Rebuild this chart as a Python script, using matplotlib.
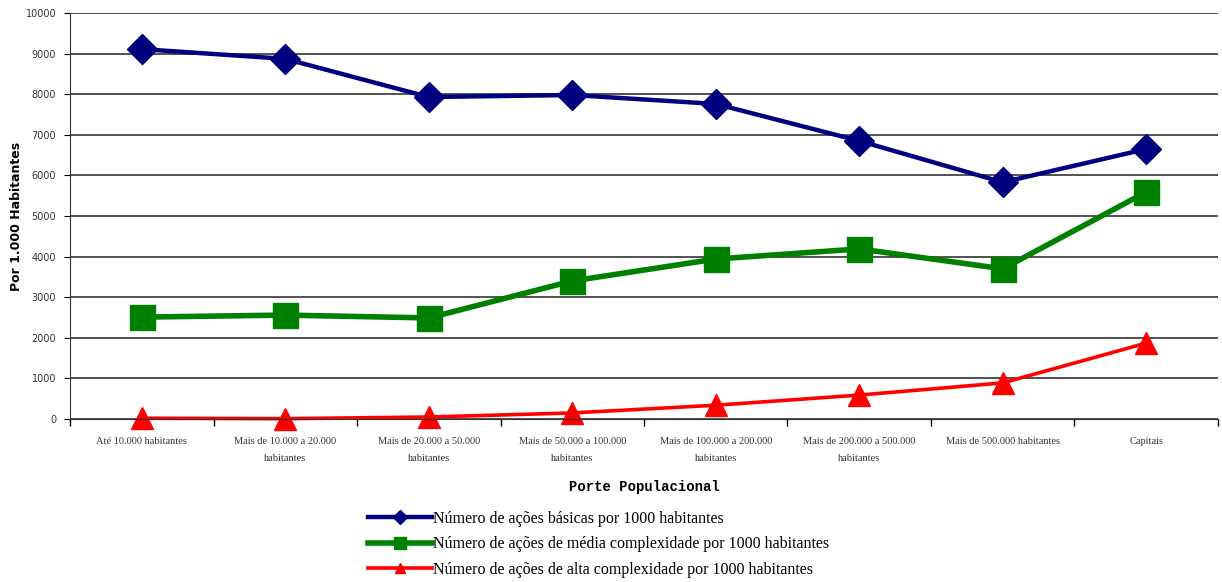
import matplotlib.pyplot as plt
import numpy as np

categorias = [
    "Até 10.000 habitantes",
    "Mais de 10.000 a 20.000\nhabitantes",
    "Mais de 20.000 a 50.000\nhabitantes",
    "Mais de 50.000 a 100.000\nhabitantes",
    "Mais de 100.000 a 200.000\nhabitantes",
    "Mais de 200.000 a 500.000\nhabitantes",
    "Mais de 500.000 habitantes",
    "Capitais",
]
basicas = [9110, 8870, 7930, 7980, 7760, 6850, 5830, 6650]
media = [2510, 2560, 2490, 3400, 3940, 4190, 3700, 5590]
alta = [20, 10, 50, 150, 340, 590, 890, 1870]

fig = plt.figure(figsize=(12.22, 5.82), dpi=100)
ax = fig.add_axes([0.0573, 0.28, 0.9394, 0.6977])

x = np.arange(len(categorias))
ax.plot(x, basicas, color="#000080", lw=3.2, marker="D", markersize=15,
        clip_on=False, label="Número de ações básicas por 1000 habitantes")
ax.plot(x, media, color="#008000", lw=4, marker="s", markersize=18,
        clip_on=False, label="Número de ações de média complexidade por 1000 habitantes")
ax.plot(x, alta, color="#ff0000", lw=2.6, marker="^", markersize=16,
        clip_on=False, label="Número de ações de alta complexidade por 1000 habitantes")

ax.set_xlim(-0.5, len(categorias) - 0.5)
ax.set_ylim(0, 10000)
ax.set_yticks(range(0, 10001, 1000))
ax.yaxis.grid(True, color="#222222", lw=1.1)
ax.set_axisbelow(True)

ax.set_xticks(x)
ax.set_xticklabels(categorias, fontsize=7.5, family="Liberation Serif",
                   linespacing=2.2, color="#333333")
ax.set_xticks(np.arange(-0.5, len(categorias), 1), minor=True)
ax.tick_params(axis="x", which="major", length=0, pad=13)
ax.tick_params(axis="x", which="minor", length=5, width=1, direction="out")
ax.tick_params(axis="y", length=4, direction="out", labelsize=7, pad=6,
               labelcolor="#333333")

for s in ["top", "right"]:
    ax.spines[s].set_visible(False)
ax.spines["left"].set_color("#333333")
ax.spines["bottom"].set_color("#333333")

ax.set_xlabel("Porte Populacional", family="Liberation Mono", fontweight="bold",
              fontsize=10, labelpad=12)
ax.set_ylabel("Por 1.000 Habitantes", fontweight="bold", fontsize=9)
ax.yaxis.set_label_coords(-0.041, 0.5)

fig.legend(loc="upper center", bbox_to_anchor=(0.49, 0.142), frameon=False,
           markerscale=0.45, handlelength=4, handletextpad=0.1,
           labelspacing=0.6, borderpad=0.2,
           prop={"family": "Liberation Serif", "size": 11.5})

fig.savefig("out.png", dpi=100)
